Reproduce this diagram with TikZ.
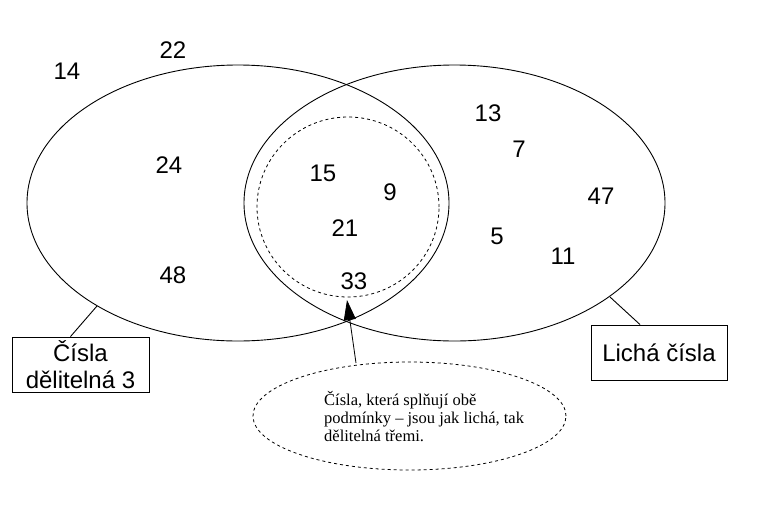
\documentclass[tikz,border=0pt]{standalone}
\usepackage{fontspec}
\setmainfont{Liberation Sans}
\newfontfamily\seriffont{Liberation Serif}
\usetikzlibrary{arrows.meta,shapes.geometric}
\begin{document}
\begin{tikzpicture}[x=1pt,y=-1pt,
  setline/.style={line width=0.9pt},
  dashline/.style={line width=0.8pt,dash pattern=on 3pt off 3pt},
  num/.style={font=\fontsize{24}{27}\selectfont,inner sep=0pt},
  labelbox/.style={draw,line width=0.9pt,inner sep=0pt,align=center,font=\fontsize{24}{27}\selectfont},
  calltext/.style={align=left,font=\seriffont\fontsize{16.5}{18}\selectfont,inner sep=0pt}]
\useasboundingbox (0,0) rectangle (761,507);
% sets
\node[setline,draw,ellipse,minimum width=422pt,minimum height=276pt,inner sep=0pt] (div3) at (238,203) {};
\node[setline,draw,ellipse,minimum width=421pt,minimum height=276pt,inner sep=0pt] (odd) at (454.5,203) {};
\node[dashline,draw,ellipse,minimum width=182pt,minimum height=180pt,inner sep=0pt] (both) at (348,207) {};
% numbers
\node[num] (n14) at (67,71) {14};
\node[num] (n22) at (173,50) {22};
\node[num] (n24) at (169,165) {24};
\node[num] (n48) at (173,275) {48};
\node[num] (n15) at (323,173) {15};
\node[num] (n9) at (390,192) {9};
\node[num] (n21) at (345,228) {21};
\node[num] (n33) at (354,281) {33};
\node[num] (n13) at (488,113) {13};
\node[num] (n7) at (519,149) {7};
\node[num] (n47) at (601,196) {47};
\node[num] (n5) at (497,236) {5};
\node[num] (n11) at (563,256) {11};
% label boxes
\node[labelbox,minimum width=137pt,minimum height=55pt] (lbl3) at (80.5,364.5) {Čísla\\dělitelná 3};
\node[labelbox,minimum width=136pt,minimum height=55pt] (lblodd) at (659,352.5) {Lichá čísla};
\coordinate (p3) at (97,306);
\coordinate (podd) at (610,297);
\draw[setline] (lbl3.north) ++(-10,0) coordinate (l3top) -- (p3);
\draw[setline] (lblodd.north) ++(-19,0) coordinate (lotop) -- (podd);
% callout
\node[dashline,draw,ellipse,minimum width=313pt,minimum height=108pt,inner sep=0pt] (call) at (409.5,416) {};
\node[calltext,anchor=north west] (calltxt) at (324,391) {Čísla, která splňují obě\\podmínky – jsou jak lichá, tak\\dělitelná třemi.};
\coordinate (tip) at (347,300);
\draw[line width=0.8pt,-{Triangle[length=20pt,width=12pt]}] (356,363) coordinate (cbase) -- (tip);
\end{tikzpicture}
\end{document}
